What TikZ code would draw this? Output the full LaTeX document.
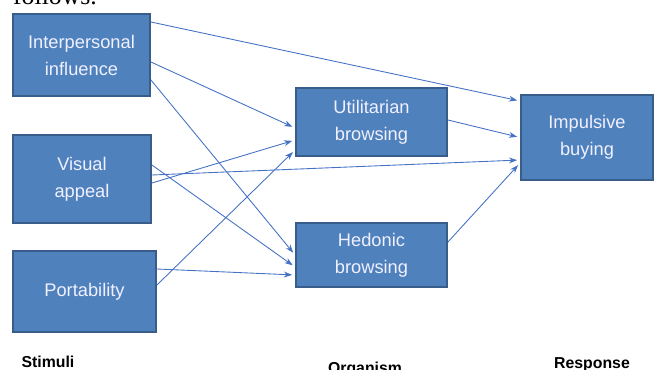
\documentclass[tikz,border=0pt]{standalone}
\usepackage{fontspec}
\setmainfont{Liberation Sans}
\newfontfamily\serifface{Liberation Serif}
\usepackage{xcolor}
\usepackage{tikz}
\usetikzlibrary{arrows.meta,calc,positioning}
\definecolor{boxfill}{RGB}{79,129,189}
\definecolor{boxline}{RGB}{56,93,138}
\definecolor{linkcolor}{RGB}{68,114,196}

\begin{document}
\begin{tikzpicture}[
        x=0.03cm, y=-0.03cm,
        factor/.style={rectangle, draw=boxline, line width=1.6pt, fill=boxfill, text=white!94!blue, align=center, font=\fontsize{15.6}{23}\selectfont, inner sep=0pt},
        link/.style={-{Stealth[length=7pt,width=5pt]}, linkcolor, line width=0.75pt, shorten >=2.5pt},
        stage/.style={anchor=base, font=\fontsize{13.5}{16}\selectfont\bfseries}
    ]
        \useasboundingbox (0,0) rectangle (654,370);
        \node[anchor=base west, font=\serifface\fontsize{22}{24}\selectfont] (follows) at (9,5) {follows.};

        % stimuli
        \node[factor, minimum width=137*0.03cm, minimum height=82*0.03cm] (inter) at (81.5,55) {Interpersonal\\influence};
        \node[factor, minimum width=138*0.03cm, minimum height=88*0.03cm] (visual) at (82,179) {Visual\\appeal};
        \node[factor, minimum width=143*0.03cm, minimum height=81*0.03cm] (port) at (84.5,291.5) {Portability};

        % organism
        \node[factor, minimum width=151*0.03cm, minimum height=68*0.03cm] (util) at (371.5,122) {Utilitarian\\browsing};
        \node[factor, minimum width=151*0.03cm, minimum height=64*0.03cm] (hed) at (371.5,255) {Hedonic\\browsing};

        % response
        \node[factor, minimum width=132*0.03cm, minimum height=85*0.03cm] (impulse) at (587,137.5) {Impulsive\\buying};

        \draw[link] ($(inter.east)+(0,-33)$) -- ($(impulse.west)+(0,-36.5)$);
        \draw[link] ($(inter.east)+(0,7)$) -- ($(util.west)+(0,6)$);
        \draw[link] ($(inter.east)+(0,25)$) -- ($(hed.west)+(0,0)$);

        \draw[link] ($(visual.east)+(0,-14)$) -- ($(hed.west)+(0,12)$);
        \draw[link] ($(visual.east)+(0,-4)$) -- ($(impulse.west)+(0,22.5)$);
        \draw[link] ($(visual.east)+(0,4)$) -- ($(util.west)+(0,18)$);

        \draw[link] ($(port.east)+(0,-6.5)$) -- ($(util.west)+(0,28)$);
        \draw[link] ($(port.east)+(0,-22.5)$) -- ($(hed.west)+(0,20)$);

        \draw[link] ($(util.east)+(0,-2)$) -- ($(impulse.west)+(0,0)$);
        \draw[link] ($(hed.east)+(0,-13)$) -- ($(impulse.west)+(0,25.5)$);

        \node[stage] (stimuli) at (48,367) {Stimuli};
        \node[stage] (organism) at (365,373) {Organism};
        \node[stage] (response) at (592,368) {Response};
    \end{tikzpicture}
\end{document}
